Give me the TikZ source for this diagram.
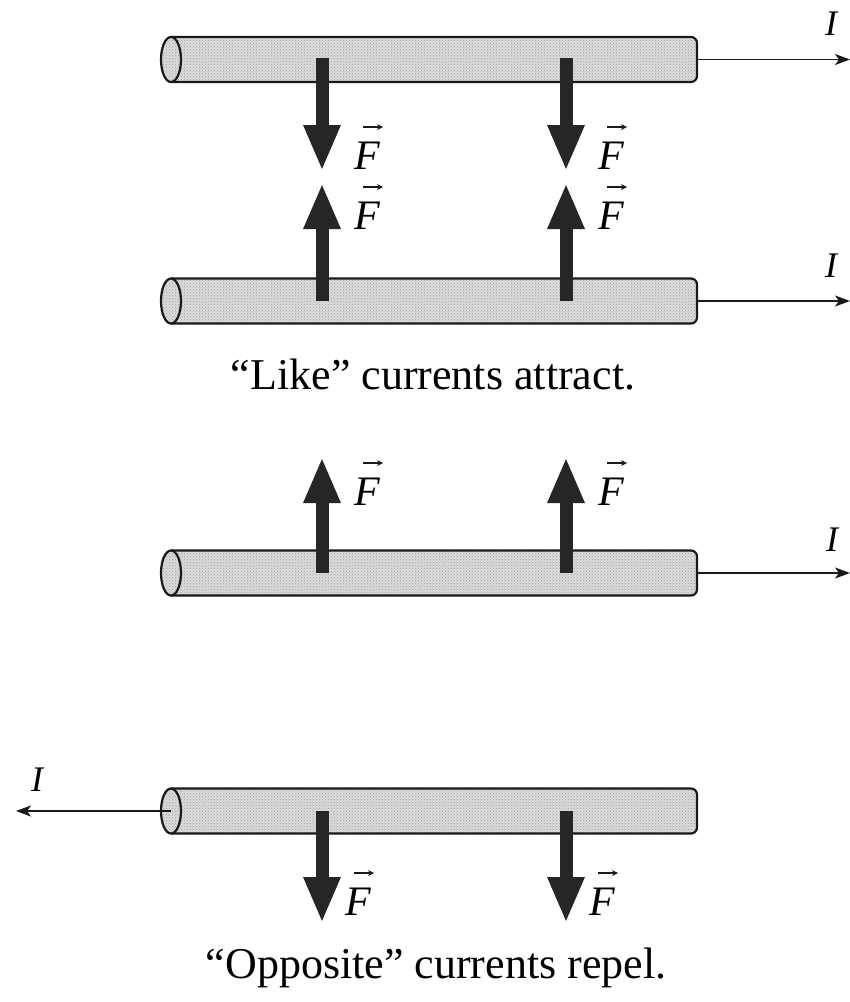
\documentclass[tikz,border=0pt]{standalone}
\usepackage{fontspec}
\setmainfont{Liberation Serif}
\usetikzlibrary{arrows.meta,patterns}
\tikzset{
  cylfill/.style={fill=gray!28},
  cyldots/.style={pattern=crosshatch dots, pattern color=gray!75},
  cylline/.style={draw=black!90, line width=2.2pt},
  farrow/.style={line width=13pt, draw=black!85, -{Triangle[width=34pt,length=46pt]}},
  curr/.style={line width=1.6pt, draw=black!90, -{Stealth[length=15pt,width=11pt,inset=4pt]}},
  vecarrow/.style={line width=1.2pt, draw=black!90, -{Stealth[length=6pt,width=6pt]}},
  flabel/.style={font=\fontsize{42}{46}\selectfont\itshape, inner sep=0pt},
  ilabel/.style={font=\fontsize{36}{40}\selectfont\itshape, inner sep=0pt},
  caption/.style={font=\fontsize{44}{50}\selectfont, inner sep=0pt}
}
\newcommand{\wirebody}[2]{%
  \coordinate (#1L) at (171,#2);
  \coordinate (#1R) at (697,#2);
  \fill[cylfill] (171,{#2-22.5}) [rounded corners=6pt]-- (697,{#2-22.5}) -- (697,{#2+22.5}) [sharp corners]-- (171,{#2+22.5}) -- cycle;
  \fill[cyldots] (171,{#2-22.5}) [rounded corners=6pt]-- (697,{#2-22.5}) -- (697,{#2+22.5}) [sharp corners]-- (171,{#2+22.5}) -- cycle;
  \draw[cylline] (171,{#2-22.5}) [rounded corners=6pt]-- (697,{#2-22.5}) -- (697,{#2+22.5}) [sharp corners]-- (171,{#2+22.5});
  \fill[cylfill] (#1L) ellipse [x radius=10, y radius=22.5];
  \fill[cyldots] (#1L) ellipse [x radius=10, y radius=22.5];
  \draw[cylline] (#1L) ellipse [x radius=10, y radius=22.5];
}
% F label with vector arrow: #1 name, #2 position
\newcommand{\flab}[2]{%
  \node[flabel] (#1) at (#2) {F};
  \coordinate (#1a) at ([shift={(-4,-15)}]#1.north);
  \coordinate (#1b) at ([shift={(16,-15)}]#1.north);
  \draw[vecarrow] (#1a) -- (#1b);
}
\begin{document}
\begin{tikzpicture}[x=1pt,y=-1pt]
\useasboundingbox (0,0) rectangle (850,1002);
\fill[white] (0,0) rectangle (850,1002);

% ---- Like currents ----
\wirebody{wa}{59.5}
\wirebody{wb}{301}
\coordinate (wa1) at (322,58);  \coordinate (wa1t) at (322,171);
\coordinate (wa2) at (566,58);  \coordinate (wa2t) at (566,171);
\coordinate (wb1) at (322,301); \coordinate (wb1t) at (322,183);
\coordinate (wb2) at (566,301); \coordinate (wb2t) at (566,183);
\draw[farrow] (wa1) -- (wa1t);
\draw[farrow] (wa2) -- (wa2t);
\draw[farrow] (wb1) -- (wb1t);
\draw[farrow] (wb2) -- (wb2t);
\flab{fa1}{367,156}
\flab{fa2}{611,156}
\flab{fb1}{367,216}
\flab{fb2}{611,216}
\coordinate (ia) at (850,59.5);
\coordinate (ib) at (850,301);
\draw[curr] (waR) -- (ia);
\draw[curr] (wbR) -- (ib);
\node[ilabel] (la) at (831,24) {I};
\node[ilabel] (lb) at (831,266) {I};
\node[caption] (cap1) at (433,375) {“Like” currents attract.};

% ---- Opposite currents ----
\wirebody{wc}{573}
\wirebody{wd}{811}
\coordinate (wc1) at (322,573); \coordinate (wc1t) at (322,457);
\coordinate (wc2) at (566,573); \coordinate (wc2t) at (566,457);
\coordinate (wd1) at (322,811); \coordinate (wd1t) at (322,923);
\coordinate (wd2) at (566,811); \coordinate (wd2t) at (566,923);
\draw[farrow] (wc1) -- (wc1t);
\draw[farrow] (wc2) -- (wc2t);
\draw[farrow] (wd1) -- (wd1t);
\draw[farrow] (wd2) -- (wd2t);
\flab{fc1}{367,492}
\flab{fc2}{611,492}
\flab{fd1}{358,902}
\flab{fd2}{602,902}
\coordinate (ic) at (850,573);
\coordinate (id) at (16,811);
\draw[curr] (wcR) -- (ic);
\draw[curr] (wdL) -- (id);
\node[ilabel] (lc) at (832,540) {I};
\node[ilabel] (ld) at (37,780) {I};
\node[caption] (cap2) at (436,968) {“Opposite” currents repel.};
\end{tikzpicture}
\end{document}
